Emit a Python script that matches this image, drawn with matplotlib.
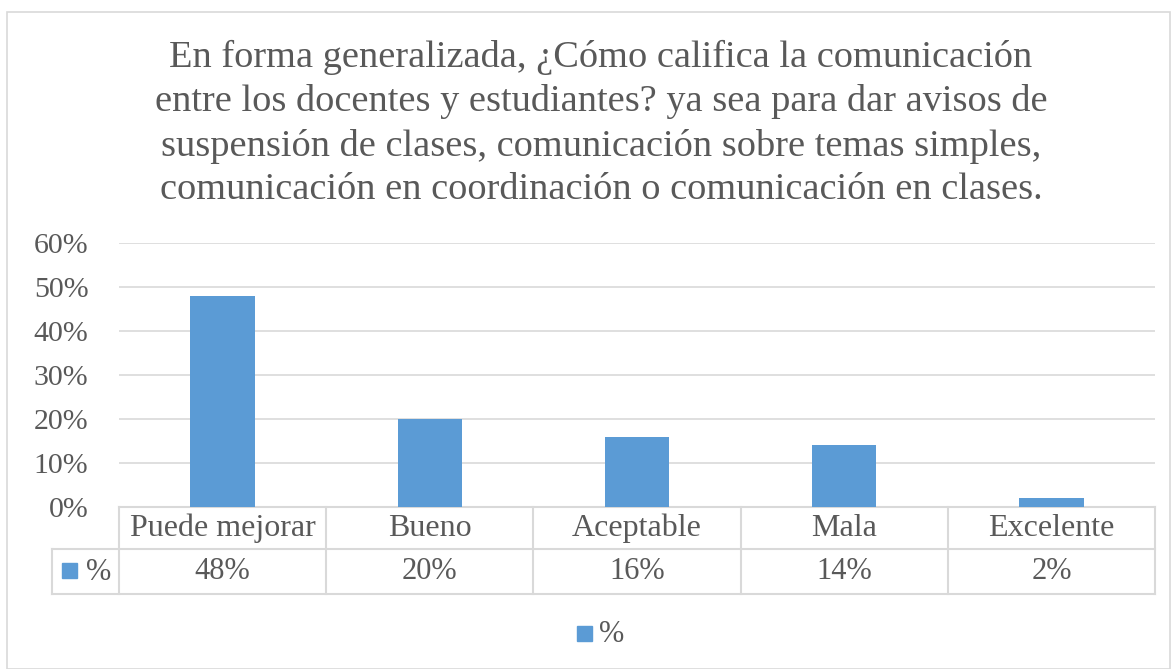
import matplotlib
matplotlib.use("Agg")
import matplotlib.pyplot as plt
from matplotlib.patches import Rectangle
from matplotlib.lines import Line2D

plt.rcParams['font.family'] = ['Liberation Serif', 'DejaVu Serif']

categories = ["Puede mejorar", "Bueno", "Aceptable", "Mala", "Excelente"]
values = [0.48, 0.20, 0.16, 0.14, 0.02]
value_labels = ["48%", "20%", "16%", "14%", "2%"]
y_ticks = [0.0, 0.1, 0.2, 0.3, 0.4, 0.5, 0.6]
series_name = "%"
title = ("En forma generalizada, ¿Cómo califica la comunicación\n"
         "entre los docentes y estudiantes? ya sea para dar avisos de\n"
         "suspensión de clases, comunicación sobre temas simples,\n"
         "comunicación en coordinación o comunicación en clases.")

W, H = 1172, 669
bar_color = "#5b9bd5"
text_color = "#595959"
grid_color = "#d9d9d9"

fig = plt.figure(figsize=(W / 100, H / 100), dpi=100)

# outer chart border
fig.patches.append(Rectangle((7 / W, 0), (W - 9) / W, (H - 12) / H, transform=fig.transFigure,
                             fill=False, edgecolor=grid_color, lw=1.2))

fig.text(601 / W, 1 - 40 / H, title, ha="center", va="top", fontsize=27.6,
         color=text_color, linespacing=1.34)

left, right, bottom, top = 119, 1155, 507, 243
ax = fig.add_axes([left / W, 1 - bottom / H, (right - left) / W, (bottom - top) / H])
x = range(len(categories))
ax.bar(x, values, width=0.31, color=bar_color, zorder=3)
ax.set_xlim(-0.5, len(categories) - 0.5)
ax.set_ylim(0, 0.6)
ax.set_yticks(y_ticks)
ax.set_yticklabels([f"{int(round(t * 100))}%" for t in y_ticks])
ax.tick_params(axis="y", length=0, pad=22, labelsize=21.5, labelcolor=text_color)
ax.set_xticks([])
for s in ax.spines.values():
    s.set_visible(False)
ax.grid(axis="y", color=grid_color, lw=1.2, zorder=0)

# data table below the axis
px_h = bottom - top
r1 = -42 / px_h
r2 = -87 / px_h
cat_w = (right - left) / len(categories)
x_tab_left = -0.5 - (left - 52) / cat_w
trans = ax.get_xaxis_transform()
line_kw = dict(color=grid_color, lw=1.5, transform=trans, clip_on=False)
ax.add_line(Line2D([-0.5, len(categories) - 0.5], [0, 0], **line_kw))
ax.add_line(Line2D([x_tab_left, len(categories) - 0.5], [r1, r1], **line_kw))
ax.add_line(Line2D([x_tab_left, len(categories) - 0.5], [r2, r2], **line_kw))
for k in range(len(categories) + 1):
    ax.add_line(Line2D([k - 0.5, k - 0.5], [0, r2], **line_kw))
ax.add_line(Line2D([x_tab_left, x_tab_left], [r1, r2], **line_kw))

for i, (c, v) in enumerate(zip(categories, value_labels)):
    ax.text(i, r1 / 2, c, ha="center", va="center", fontsize=23, color=text_color,
            transform=trans)
    ax.text(i, (r1 + r2) / 2, v, ha="center", va="center", fontsize=22, color=text_color,
            transform=trans)

# legend key in table
fig.patches.append(Rectangle((62 / W, 1 - 578 / H), 15 / W, 15 / H, transform=fig.transFigure,
                             color=bar_color))
fig.text(86 / W, 1 - 572 / H, series_name, ha="left", va="center", fontsize=22, color=text_color)

# bottom legend
fig.patches.append(Rectangle((577 / W, 1 - 641 / H), 15 / W, 15 / H, transform=fig.transFigure,
                             color=bar_color))
fig.text(599 / W, 1 - 634 / H, series_name, ha="left", va="center", fontsize=22, color=text_color)

fig.savefig("out.png", dpi=100)
